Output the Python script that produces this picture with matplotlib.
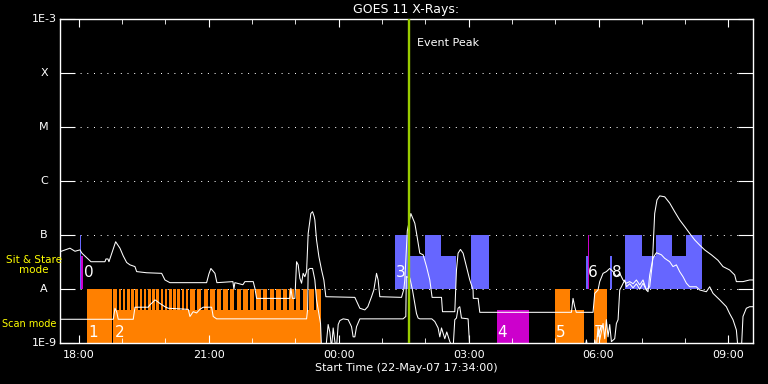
import matplotlib
matplotlib.use('Agg')
import matplotlib.pyplot as plt

# times are hours from 22-May-07 00:00, flux in W/m^2
long_t = [17.567, 17.797, 17.913, 18.028, 18.074, 18.190, 18.282, 18.605, 18.628, 18.674, 18.697,
          18.852, 18.951, 19.027, 19.106, 19.182, 19.297, 19.337, 19.567, 19.914, 19.990, 20.105,
          20.952, 21.005, 21.051, 21.144, 21.190, 21.559, 21.582, 21.605, 21.790, 21.836, 22.028,
          22.067, 22.106, 22.874, 22.897, 22.932, 22.990, 23.029, 23.066, 23.105, 23.144, 23.181,
          23.220, 23.260, 23.297, 23.359, 23.398, 23.435, 23.451, 23.490, 23.544, 23.606, 23.659,
          23.705, 24.374, 24.490, 24.605, 24.674, 24.760, 24.813, 24.875, 24.912, 24.951, 25.452,
          25.505, 25.528, 25.586, 25.667, 25.759, 25.812, 25.874, 25.951, 26.029, 26.105, 26.158,
          26.375, 26.398, 26.682, 26.721, 26.758, 26.813, 26.874, 26.952, 27.028, 27.104, 27.109,
          27.220, 27.259, 29.375, 29.412, 29.451, 29.486, 29.874, 29.913, 29.989, 30.028, 30.105,
          30.182, 30.259, 30.336, 30.415, 30.490, 30.566, 30.645, 30.720, 30.798, 30.875, 30.951,
          31.028, 31.105, 31.143, 31.182, 31.244, 31.297, 31.350, 31.413, 31.528, 31.644, 31.759,
          31.874, 31.990, 32.105, 32.221, 32.336, 32.451, 32.606, 32.759, 32.874, 33.028, 33.144,
          33.183, 33.336, 33.490, 33.567]
long_f = [4.9e-8, 5.7e-8, 5.0e-8, 5.3e-8, 4.6e-8, 3.75e-8, 3.2e-8, 3.2e-8, 3.6e-8, 3.6e-8, 3.2e-8,
          7.5e-8, 5.7e-8, 4.1e-8, 3.1e-8, 2.8e-8, 2.6e-8, 2.1e-8, 2.0e-8, 1.95e-8, 1.47e-8, 1.31e-8,
          1.31e-8, 1.9e-8, 2.4e-8, 1.95e-8, 1.31e-8, 1.37e-8, 1.0e-8, 1.31e-8, 1.2e-8, 1.37e-8, 1.37e-8,
          1.03e-8, 6.7e-9, 6.7e-9, 1.03e-8, 6.7e-9, 6.7e-9, 3.2e-8, 2.8e-8, 1.58e-8, 1.28e-8, 1.95e-8,
          1.69e-8, 2.1e-8, 1.07e-7, 2.5e-7, 2.7e-7, 2.2e-7, 1.9e-7, 8.1e-8, 4.0e-8, 2.25e-8, 1.47e-8,
          7.2e-9, 7.0e-9, 4.4e-9, 4.1e-9, 4.7e-9, 7.2e-9, 9.6e-9, 1.95e-8, 1.47e-8, 7.2e-9, 7.0e-9,
          9.9e-9, 1.47e-8, 1.2e-7, 2.5e-7, 1.65e-7, 9.3e-8, 4.6e-8, 4.3e-8, 2.6e-8, 1.47e-8, 7.0e-9,
          7.0e-9, 3.8e-9, 3.8e-9, 2.25e-8, 4.6e-8, 5.4e-8, 4.6e-8, 2.6e-8, 1.47e-8, 9.6e-9, 6.7e-9,
          6.7e-9, 3.7e-9, 3.7e-9, 6.7e-9, 4.7e-9, 3.7e-9, 3.7e-9, 8.3e-9, 9.6e-9, 1.37e-8, 1.95e-8,
          2.1e-8, 2.4e-8, 2.1e-8, 1.69e-8, 1.95e-8, 1.47e-8, 1.28e-8, 1.37e-8, 1.25e-8, 1.47e-8, 1.19e-8,
          1.47e-8, 9.6e-9, 1.03e-8, 1.1e-8, 3.0e-8, 2.5e-7, 4.45e-7, 5.3e-7, 5.1e-7, 3.9e-7, 2.7e-7,
          1.9e-7, 1.43e-7, 1.07e-7, 8.1e-8, 6.5e-8, 5.3e-8, 4.3e-8, 3.4e-8, 2.6e-8, 2.25e-8, 1.82e-8,
          1.37e-8, 1.37e-8, 1.47e-8, 1.47e-8]

short_t = [17.567, 18.797, 18.836, 18.875, 18.912, 19.258, 19.297, 19.604, 19.644, 19.720, 19.759,
           19.798, 19.874, 19.990, 20.066, 20.528, 20.567, 20.643, 20.721, 20.797, 20.874, 21.067,
           21.104, 21.183, 23.260, 23.283, 23.297, 23.336, 23.398, 23.451, 23.490, 23.582, 23.605,
           23.705, 23.758, 23.797, 23.836, 23.874, 23.913, 23.950, 23.990, 24.028, 24.105, 24.220,
           24.298, 24.335, 24.374, 24.413, 24.490, 25.489, 25.551, 25.563, 25.644, 25.705, 25.759,
           25.798, 25.835, 25.874, 26.151, 26.220, 26.297, 26.336, 26.375, 26.413, 26.451, 26.497,
           26.567, 26.643, 26.682, 26.721, 26.758, 26.797, 26.836, 26.989, 27.012, 27.028, 29.690,
           29.721, 29.750, 29.900, 29.913, 29.950, 29.990, 30.028, 30.105, 30.144, 30.182, 30.220,
           30.259, 30.298, 30.374, 30.413, 30.452, 30.490, 30.529, 30.606, 30.645, 30.720, 30.798,
           30.875, 30.951, 31.028, 31.105, 31.143, 31.182, 31.259, 31.336, 31.452, 31.528, 31.644,
           31.720, 31.798, 31.874, 31.951, 32.029, 32.105, 32.259, 32.336, 32.490, 32.567, 32.644,
           32.798, 32.952, 33.028, 33.105, 33.183, 33.220, 33.300, 33.336, 33.413, 33.490, 33.567]
short_f = [2.75e-9, 2.75e-9, 4.4e-9, 3.8e-9, 2.75e-9, 2.75e-9, 4.6e-9, 4.6e-9, 5.1e-9, 5.8e-9, 6.3e-9,
           6.0e-9, 5.4e-9, 4.7e-9, 4.4e-9, 4.2e-9, 3.1e-9, 3.8e-9, 3.6e-9, 4.2e-9, 4.6e-9, 4.6e-9,
           3.1e-9, 2.8e-9, 2.8e-9, 4.1e-9, 2.25e-8, 2.4e-8, 2.4e-8, 1.47e-8, 6.3e-9, 2.3e-9, 8e-10,
           8e-10, 2.2e-9, 1.6e-9, 8e-10, 1.9e-9, 1.06e-9, 8e-10, 2.2e-9, 2.6e-9, 2.8e-9, 2.7e-9,
           2.0e-9, 1.3e-9, 1.3e-9, 2.0e-9, 2.8e-9, 2.8e-9, 3.1e-9, 1.7e-8, 1.6e-8, 9.6e-9, 5.4e-9,
           3.5e-9, 2.9e-9, 2.8e-9, 2.8e-9, 2.5e-9, 1.9e-9, 1.3e-9, 1.9e-9, 1.5e-9, 1.2e-9, 1.6e-9,
           1.06e-9, 8e-10, 2.7e-9, 2.9e-9, 4.4e-9, 4.7e-9, 2.9e-9, 2.8e-9, 1.3e-9, 8e-10, 8e-10,
           1.14e-9, 8e-10, 8e-10, 1.14e-9, 8e-10, 2.0e-9, 1.14e-9, 2.3e-9, 1.2e-9, 2.7e-9, 1.3e-9,
           2.2e-9, 1.06e-9, 1.2e-9, 2.3e-9, 2.7e-9, 9.6e-9, 1.1e-8, 1.47e-8, 1.1e-8, 1.25e-8, 1.05e-8,
           1.25e-8, 9.9e-9, 1.28e-8, 9.6e-9, 8.9e-9, 1.82e-8, 3.75e-8, 4.7e-8, 4.3e-8, 3.7e-8, 3.2e-8,
           2.6e-8, 2.8e-8, 2.1e-8, 1.69e-8, 1.28e-8, 1.1e-8, 1.1e-8, 9.6e-9, 8.9e-9, 1.1e-8, 8.3e-9,
           6.3e-9, 4.7e-9, 3.5e-9, 2.7e-9, 1.74e-9, 8e-10, 8e-10, 3.1e-9, 4.4e-9, 4.7e-9, 4.7e-9]

# sit & stare observations (blue), drawn from A level up
sit_start = [18.028, 25.297, 25.644, 25.990, 26.375, 27.067, 29.705, 30.259, 30.605, 30.997, 31.320, 31.690, 32.013]
sit_end = [18.063, 25.644, 25.990, 26.375, 26.721, 27.467, 29.751, 30.321, 30.997, 31.320, 31.690, 32.013, 32.398]
sit_top = [1e-7, 1e-7, 4.1e-8, 1e-7, 4.1e-8, 1e-7, 4.1e-8, 4.1e-8, 1e-7, 4.1e-8, 1e-7, 4.1e-8, 1e-7]

# magenta observations
mag_start = [18.063, 29.751, 27.651]
mag_end = [18.097, 29.790, 28.390]
mag_bottom = [1e-8, 1e-8, 1e-9]
mag_top = [4.1e-8, 1e-7, 4.1e-9]

# scan mode observations (orange)
scan_start = [18.183, 18.797, 18.797, 28.990, 28.990, 29.890]
scan_end = [18.760, 23.583, 18.889, 29.336, 29.659, 30.206]
scan_top = [1e-8, 4.1e-9, 1e-8, 1e-8, 4.1e-9, 1e-8]
teeth_start = [18.921, 19.018, 19.115, 19.212, 19.309, 19.406, 19.503, 19.600, 19.697, 19.794,
               19.891, 19.988, 20.084, 20.181, 20.278, 20.375, 20.472, 20.578, 20.731, 20.883,
               21.035, 21.188, 21.340, 21.492, 21.644, 21.797, 21.949, 22.101, 22.254, 22.406,
               22.558, 22.710, 22.863, 23.015, 23.167, 23.320, 23.472]
teeth_end = [18.979, 19.076, 19.173, 19.270, 19.367, 19.464, 19.561, 19.658, 19.755, 19.852,
             19.949, 20.046, 20.142, 20.239, 20.336, 20.433, 20.530, 20.678, 20.831, 20.983,
             21.135, 21.288, 21.440, 21.592, 21.744, 21.897, 22.049, 22.201, 22.354, 22.506,
             22.658, 22.810, 22.963, 23.115, 23.267, 23.420, 23.583]

bar_labels = ['0', '1', '2', '3', '4', '5', '6', '7', '8']
label_t = [18.13, 18.213, 18.836, 25.32, 27.667, 29.013, 29.751, 29.89, 30.32]
label_f = [2.0e-8, 1.55e-9, 1.55e-9, 2.0e-8, 1.55e-9, 1.55e-9, 2.0e-8, 1.55e-9, 2.0e-8]

event_peak = 25.621
t_start, t_end = 17.567, 33.567

level_vals = [1e-9, 1e-8, 1e-7, 1e-6, 1e-5, 1e-4, 1e-3]
level_names = ['1E-9', 'A', 'B', 'C', 'M', 'X', '1E-3']
hour_ticks = [18, 21, 24, 27, 30, 33]
hour_labels = ['18:00', '21:00', '00:00', '03:00', '06:00', '09:00']

BLUE = '#6666ff'
ORANGE = '#ff8000'
MAGENTA = '#cc00cc'

plt.rcParams['font.family'] = 'DejaVu Sans'
fig = plt.figure(figsize=(7.68, 3.84), dpi=100, facecolor='black')
ax = fig.add_axes([60/768, 41/384, 693/768, 324/384], facecolor='black')
ax.set_yscale('log')
ax.set_xlim(t_start, t_end)
ax.set_ylim(1e-9, 1e-3)

# dotted level lines
for v in level_vals[1:-1]:
    ax.axhline(v, color='white', lw=0.72, ls=(0, (1, 5.7)), zorder=0.5)

# observation bars
for s, e, top in zip(sit_start, sit_end, sit_top):
    ax.bar(s, top - 1e-8, width=e - s, bottom=1e-8, align='edge', color=BLUE, lw=0, zorder=1)
for s, e, b, top in zip(mag_start, mag_end, mag_bottom, mag_top):
    ax.bar(s, top - b, width=e - s, bottom=b, align='edge', color=MAGENTA, lw=0, zorder=1)
for s, e, top in zip(scan_start, scan_end, scan_top):
    ax.bar(s, top - 1e-9, width=e - s, bottom=1e-9, align='edge', color=ORANGE, lw=0, zorder=1)
for s, e in zip(teeth_start, teeth_end):
    ax.bar(s, 1e-8 - 1e-9, width=e - s, bottom=1e-9, align='edge', color=ORANGE, lw=0, zorder=1)

# GOES curves
ax.plot(long_t, long_f, color='white', lw=0.75, zorder=3)
ax.plot(short_t, short_f, color='white', lw=0.75, zorder=3)

ax.axvline(event_peak, color='#99cc00', lw=1.7, zorder=4)
ax.annotate('Event Peak', xy=(event_peak, 3.6e-4), xytext=(6, 0), textcoords='offset points',
            color='white', fontsize=8, va='center', ha='left')

for lab, t, f in zip(bar_labels, label_t, label_f):
    ax.text(t, f, lab, color='white', fontsize=11, va='center', ha='left', zorder=5)

# axes styling
for sp in ax.spines.values():
    sp.set_color('white')
    sp.set_linewidth(1.0)
ax.set_xticks(hour_ticks)
ax.set_xticklabels(hour_labels)
ax.set_xticks(range(18, 34), minor=True)
ax.tick_params(axis='x', which='major', direction='in', top=True, length=6, color='white',
               labelcolor='white', labelsize=8, pad=5)
ax.tick_params(axis='x', which='minor', direction='in', top=True, length=3.5, color='white')
ax.set_yticks(level_vals)
ax.set_yticks([], minor=True)
ax.tick_params(axis='y', which='major', direction='in', right=True, length=11, width=0.8,
               color='white', labelleft=False)

ytr = ax.get_yaxis_transform()
for v, name in zip(level_vals, level_names):
    ax.text(-0.023, v, name, transform=ytr, color='white', fontsize=8, ha='center', va='center')
ax.text(-0.038, 2.78e-8, 'Sit & Stare\nmode', transform=ytr, color='yellow', fontsize=7.5,
        ha='center', va='center', linespacing=1.1)
ax.text(-0.083, 2.25e-9, 'Scan mode', transform=ytr, color='yellow', fontsize=7,
        ha='left', va='center')

ax.set_title('GOES 11 X-Rays:', color='white', fontsize=9, pad=4)
ax.set_xlabel('Start Time (22-May-07 17:34:00)', color='white', fontsize=8, labelpad=2)

fig.savefig('out.png', dpi=100, facecolor='black')
